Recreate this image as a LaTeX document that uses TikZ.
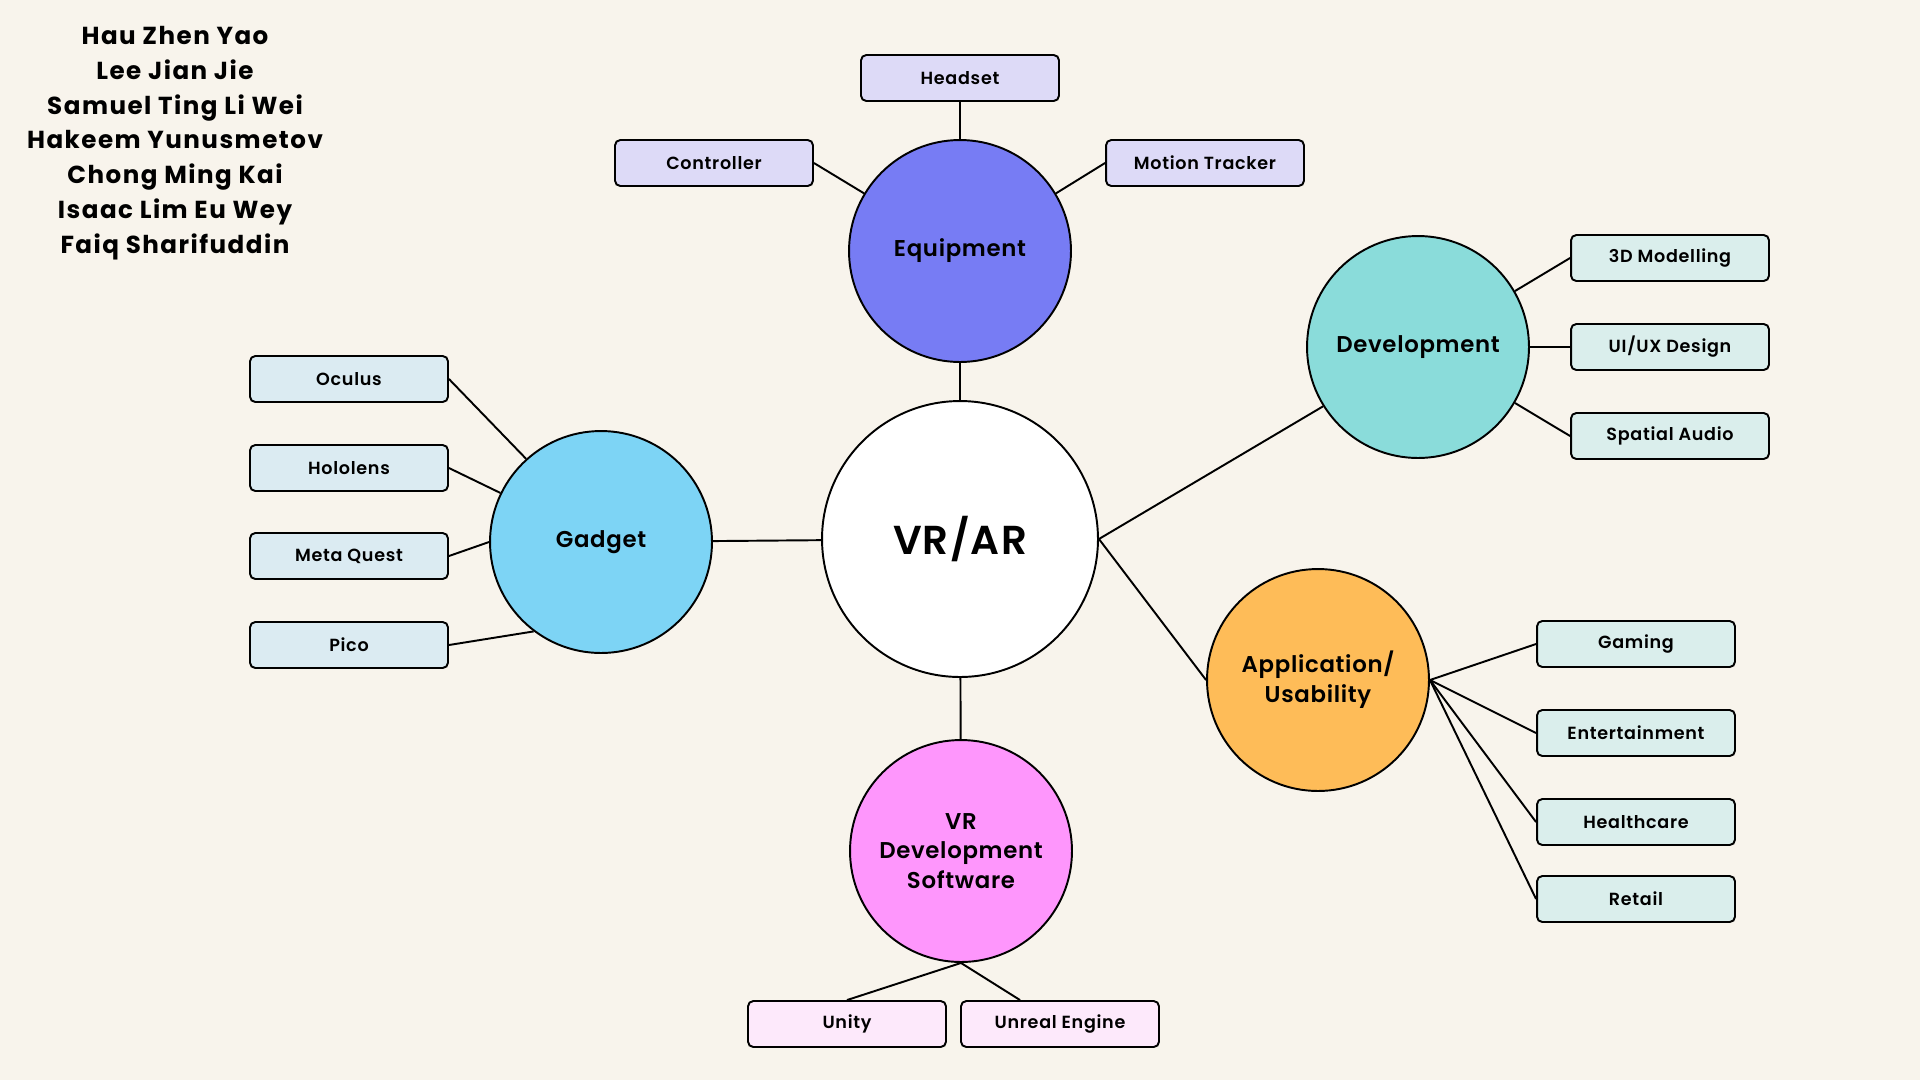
\documentclass[tikz,border=0pt]{standalone}
\usepackage{fontspec}
\setmainfont{Poppins}
\newfontfamily\boxfont[LetterSpace=4,BoldFont={Poppins SemiBold}]{Poppins}
\newfontfamily\hubfont[LetterSpace=3,BoldFont={Poppins SemiBold}]{Poppins}
\newfontfamily\teamfont[LetterSpace=6]{Poppins}
\usepackage{xcolor}
\usepackage{tikz}
\usetikzlibrary{positioning,calc}
\definecolor{Paper}{HTML}{F8F4EC}
\definecolor{EQc}{HTML}{777CF4}
\definecolor{DVc}{HTML}{8ADCDA}
\definecolor{GDc}{HTML}{7DD4F5}
\definecolor{APc}{HTML}{FEBC58}
\definecolor{SWc}{HTML}{FE96FC}
\definecolor{EQbox}{HTML}{DDDAF7}
\definecolor{GDbox}{HTML}{DBEBF2}
\definecolor{DVbox}{HTML}{DAEEEC}
\definecolor{SWbox}{HTML}{FDE9FB}
\tikzset{
  hub/.style={circle,draw=black,line width=1.1pt,minimum size=4.44cm,inner sep=0pt,
              align=center,font=\hubfont\fontsize{13}{17}\selectfont\bfseries},
  core/.style={hub,fill=white,minimum size=5.52cm,
               font=\hubfont\fontsize{23}{28}\selectfont\bfseries},
  leaf/.style={rounded corners=3pt,draw=black,line width=1.1pt,minimum width=3.96cm,
               minimum height=0.92cm,inner sep=0pt,font=\boxfont\fontsize{10}{12}\selectfont\bfseries},
  link/.style={line width=1.1pt},
}

\begin{document}
\begin{tikzpicture}[x=0.02cm,y=-0.02cm]
  \path[use as bounding box,fill=Paper] (0,0) rectangle (1920,1080);
  % team names
  \node[align=center,font=\teamfont\fontsize{14}{19.8}\selectfont\bfseries] (team) at (175,143)
    {Hau Zhen Yao\\Lee Jian Jie\\Samuel Ting Li Wei\\Hakeem Yunusmetov\\
     Chong Ming Kai\\Isaac Lim Eu Wey\\Faiq Sharifuddin};
  % hubs
  \node[core] (vr) at (960,539) {VR/AR};
  \node[hub,fill=EQc] (equip) at (960,251) {Equipment};
  \node[hub,fill=DVc] (dev) at (1418,347) {Development};
  \node[hub,fill=GDc] (gadget) at (601,542) {Gadget};
  \node[hub,fill=APc] (app) at (1318,680) {Application/\\Usability};
  \node[hub,fill=SWc] (soft) at (961,851) {VR\\Development\\Software};
  % equipment
  \node[leaf,fill=EQbox] (headset) at (960,78) {Headset};
  \node[leaf,fill=EQbox] (ctrl) at (714,163) {Controller};
  \node[leaf,fill=EQbox] (tracker) at (1205,163) {Motion Tracker};
  % development
  \node[leaf,fill=DVbox] (model) at (1670,258) {3D Modelling};
  \node[leaf,fill=DVbox] (uiux) at (1670,347) {UI/UX Design};
  \node[leaf,fill=DVbox] (audio) at (1670,436) {Spatial Audio};
  % gadgets
  \node[leaf,fill=GDbox] (oculus) at (349,379) {Oculus};
  \node[leaf,fill=GDbox] (hololens) at (349,468) {Hololens};
  \node[leaf,fill=GDbox] (quest) at (349,556) {Meta Quest};
  \node[leaf,fill=GDbox] (pico) at (349,645) {Pico};
  % applications
  \node[leaf,fill=DVbox] (gaming) at (1636,644) {Gaming};
  \node[leaf,fill=DVbox] (enter) at (1636,733) {Entertainment};
  \node[leaf,fill=DVbox] (health) at (1636,822) {Healthcare};
  \node[leaf,fill=DVbox] (retail) at (1636,899) {Retail};
  % software
  \node[leaf,fill=SWbox] (unity) at (847,1024) {Unity};
  \node[leaf,fill=SWbox] (unreal) at (1060,1024) {Unreal Engine};

  \draw[link] (equip) -- (vr);
  \draw[link] (gadget) -- (vr);
  \draw[link] (vr) -- (soft);
  \draw[link] (vr.east) -- (dev.212);
  \draw[link] (vr.east) -- (app.west);
  \draw[link] (headset) -- (equip);
  \draw[link] (ctrl.east) -- (equip.149);
  \draw[link] (tracker.west) -- (equip.31);
  \draw[link] (model.west) -- (dev.30);
  \draw[link] (uiux) -- (dev);
  \draw[link] (audio.west) -- (dev.-30);
  \draw[link] (oculus.east) -- (gadget.132);
  \draw[link] (hololens.east) -- (gadget.154);
  \draw[link] (quest.east) -- (gadget.west);
  \draw[link] (pico.east) -- (gadget.233);
  \draw[link] (app.east) -- (gaming.west);
  \draw[link] (app.east) -- (enter.west);
  \draw[link] (app.east) -- (health.west);
  \draw[link] (app.east) -- (retail.west);
  \draw[link] (soft.south) -- (unity.north);
  \draw[link] (soft.south) -- ($(unreal.north)!0.4!(unreal.north west)$);
\end{tikzpicture}
\end{document}
